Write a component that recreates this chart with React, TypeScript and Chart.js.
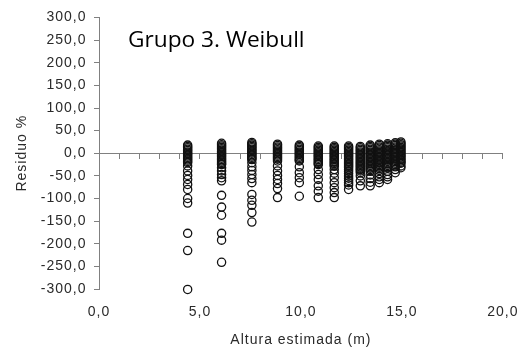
import { useEffect, useRef } from "react";
import { Chart, registerables } from "chart.js";

Chart.register(...registerables);

// x position (estimated height, m) of each column of residuals
const columnX = [4.39, 6.07, 7.57, 8.84, 9.92, 10.86, 11.65, 12.36, 12.94, 13.43, 13.88, 14.29, 14.67, 14.95];

// residuals (%) per column
const col1 = [18, 15, 12, 9, 6, 3, 0, -3, -6, -9, -12, -15, -18, -21, -28, -39, -49, -58, -69, -80, -100, -110, -177, -215, -301];
const col2 = [22, 19, 16, 13, 10, 7, 4, 1, -2, -5, -8, -11, -14, -17, -20, -23, -25, -32, -39, -47, -54, -61, -93, -119, -137, -177, -192, -241];
const col3 = [24, 21, 18, 15, 12, 9, 6, 3, 0, -3, -6, -9, -12, -14, -21, -30, -38, -47, -56, -65, -91, -104, -115, -131, -152];
const col4 = [20, 17, 14, 11, 8, 5, 2, -1, -4, -7, -10, -13, -17, -28, -39, -49, -58, -67, -78, -98];
const col5 = [18, 15, 12, 9, 6, 3, 0, -3, -6, -9, -12, -15, -17, -30, -43, -54, -65, -95];
const col6 = [16, 13, 10, 7, 4, 1, -2, -5, -8, -11, -14, -17, -20, -23, -25, -36, -47, -58, -72, -84, -98];
const col7 = [16, 13, 10, 7, 4, 1, -2, -5, -8, -11, -14, -17, -20, -23, -26, -29, -36, -44, -54, -65, -76, -87, -98];
const col8 = [16, 13, 10, 7, 4, 1, -2, -5, -8, -11, -14, -17, -20, -23, -26, -29, -32, -36, -40, -45, -50, -55, -60, -65, -70, -80];
const col9 = [15, 12, 9, 6, 3, 0, -3, -6, -9, -12, -15, -18, -21, -24, -27, -30, -33, -36, -39, -43, -50, -61, -72];
const col10 = [18, 15, 12, 9, 6, 3, 0, -3, -6, -9, -12, -15, -18, -21, -24, -27, -30, -33, -36, -40, -48, -56, -64, -72];
const col11 = [20, 17, 14, 11, 8, 5, 2, -1, -4, -7, -10, -13, -16, -19, -22, -25, -28, -31, -34, -38, -45, -52, -58, -65];
const col12 = [21, 18, 15, 12, 9, 6, 3, 0, -3, -6, -9, -12, -15, -18, -21, -24, -27, -30, -32, -40, -47, -52, -58];
const col13 = [23, 20, 17, 14, 11, 8, 5, 2, -1, -4, -7, -10, -13, -16, -19, -22, -25, -28, -30, -36, -43];
const col14 = [25, 22, 19, 16, 13, 10, 7, 4, 1, -2, -5, -8, -11, -14, -17, -20, -22, -28, -32];

const columns = [col1, col2, col3, col4, col5, col6, col7, col8, col9, col10, col11, col12, col13, col14];

const chartTitle = "Grupo 3. Weibull";
const xTitle = "Altura estimada (m)";
const yTitle = "Residuo %";

const fmt = (v: number | string) => Number(v).toFixed(1).replace(".", ",");

const AXIS_GRAY = "#808080";
const TEXT = "#2a2a2a";
const FONT = "'Liberation Sans', Arial, sans-serif";

const titlePlugin = {
  id: "innerTitle",
  beforeDraw(chart: any) {
    chart.ctx.letterSpacing = "1px";
  },
  afterDraw(chart: any) {
    const { ctx, chartArea } = chart;
    ctx.save();
    ctx.letterSpacing = "0px";
    ctx.font = "22.7px 'Open Sans', sans-serif";
    ctx.fillStyle = "#000";
    ctx.textAlign = "left";
    ctx.textBaseline = "alphabetic";
    ctx.fillText(chartTitle, chartArea.left + 29, chartArea.top + 29);
    ctx.restore();
  },
};

export default function App() {
  const ref = useRef<HTMLCanvasElement | null>(null);

  useEffect(() => {
    document.body.style.margin = "0";
    const canvas = ref.current!;
    const points = columns.flatMap((vals, i) => vals.map((v) => ({ x: columnX[i], y: v })));
    const chart = new Chart(canvas, {
      type: "scatter",
      data: {
        datasets: [
          {
            data: points,
            pointStyle: "circle",
            pointRadius: 4.1,
            pointBorderWidth: 1.3,
            borderColor: "#111",
            backgroundColor: "rgba(0,0,0,0)",
            pointHoverRadius: 4.1,
            clip: false as any,
          },
        ],
      },
      options: {
        animation: false,
        responsive: false,
        devicePixelRatio: 1,
        layout: { padding: { left: 0, right: 27.5, top: 17.5, bottom: 0 } },
        plugins: { legend: { display: false }, tooltip: { enabled: false } },
        events: [],
        scales: {
          x: {
            type: "linear",
            position: "bottom",
            min: 0,
            max: 20,
            ticks: {
              stepSize: 5,
              callback: (v: any) => fmt(v),
              font: { family: FONT, size: 14 },
              color: TEXT,
              padding: 14.5,
              maxRotation: 0,
            },
            grid: { display: false, drawTicks: false },
            border: { display: false },
            title: {
              display: true,
              text: xTitle,
              font: { family: FONT, size: 14 },
              color: TEXT,
              padding: { top: 0, bottom: 2.5 },
            },
            afterFit: (s: any) => {
              s.height = 62;
            },
          },
          x2: {
            type: "linear",
            position: { y: 0 } as any,
            min: 0,
            max: 20,
            ticks: { stepSize: 1, display: false },
            grid: {
              drawOnChartArea: false,
              drawTicks: true,
              tickLength: 5,
              color: AXIS_GRAY,
              lineWidth: 1,
            },
            border: { display: true, color: AXIS_GRAY, width: 1 },
          },
          y: {
            type: "linear",
            position: "left",
            min: -300,
            max: 300,
            ticks: {
              stepSize: 50,
              callback: (v: any) => fmt(v),
              font: { family: FONT, size: 14 },
              color: TEXT,
              padding: 7.5,
            },
            grid: {
              drawOnChartArea: false,
              drawTicks: true,
              tickLength: 5,
              color: AXIS_GRAY,
              lineWidth: 1,
            },
            border: { display: true, color: AXIS_GRAY, width: 1 },
            title: {
              display: true,
              text: yTitle,
              font: { family: FONT, size: 14 },
              color: TEXT,
              padding: { top: 14, bottom: 0 },
            },
            afterFit: (s: any) => {
              s.width = 99;
            },
          },
        },
      },
      plugins: [titlePlugin],
    });
    return () => chart.destroy();
  }, []);

  return <canvas ref={ref} width={531} height={351} style={{ display: "block", width: 531, height: 351 }} />;
}
